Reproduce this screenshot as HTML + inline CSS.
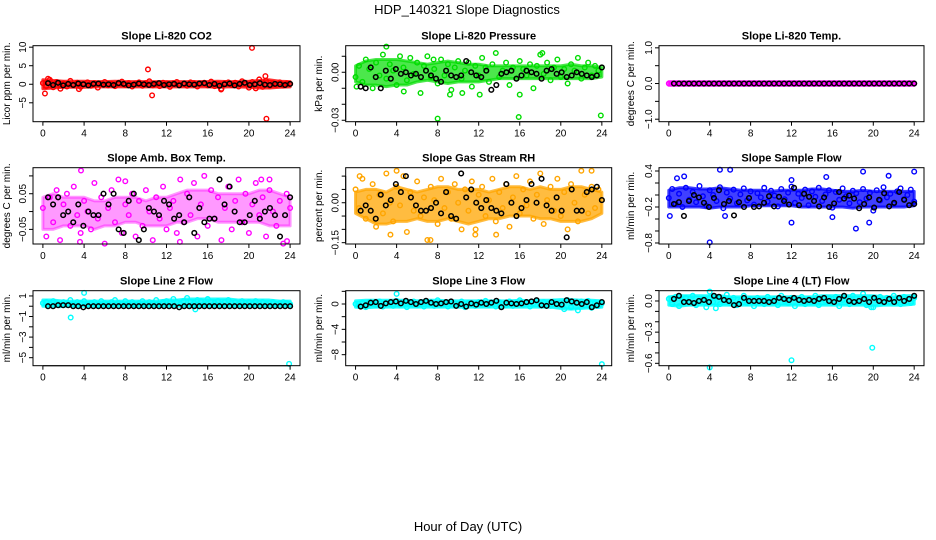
<!DOCTYPE html>
<html><head><meta charset="utf-8"><style>
html,body{margin:0;padding:0;background:#fff}
svg{display:block;font-family:"Liberation Sans",sans-serif}
</style></head><body>
<svg id="chart" width="936" height="540" viewBox="0 0 936 540">
<text x="467" y="14" font-size="13" text-anchor="middle">HDP_140321  Slope Diagnostics</text>
<text x="468" y="531" font-size="13" text-anchor="middle">Hour of Day (UTC)</text>
</svg>
<script>
const xTicks=[0,4,8,12,16,20,24];
const co2Color=[0.3,-0.5,1.2,-0.8,0.6,-0.3,0.2,-0.6,0.9,-0.2,0.4,-0.7,0.1,0.5,-0.4,0.3,-0.9,0.2,0.6,-0.3,0.1,-0.5,0.4,0.7,-0.2,0.3,-0.6,0.2,0.5,-0.4,0.3,0.8,-0.3,0.1,-0.5,0.4,0.2,-0.7,0.3,0.6,-0.2,0.1,-0.4,0.5,0.3,-0.6,0.2,0.4,-0.3,0.7,-0.5,0.1,-1.2,0.3,0.5,-0.2,0.4,-0.6,0.8,0.2,-0.9,0.6,-1.1,1.3,-0.7,0.9,-0.4,0.3,-0.2,0.5,-0.3,0.2,0.1];
const co2Black=[0.3,-0.2,0.4,-0.3,0.1,-0.2,0.2,0.0,-0.3,0.1,0.2,-0.1,0.0,-0.2,0.3,0.1,-0.3,-0.1,0.2,0.0,-0.2,0.1,0.3,-0.2,0.0,0.1,-0.3,0.2,0.0,-0.1,0.2,0.3,-0.2,0.1,-0.4,0.0,0.2,-0.3,0.1,0.4,-0.2,0.0,0.3,-0.1,-0.2,0.1,0.0,-0.2,0.1];
const co2OutX=[0.2,0.5,10.2,10.6,20.3,21.7,21.6,17.3,1.7,3.5];
const co2OutY=[-2.5,1.5,4,-3,9.8,-9.3,2.2,-1.4,-1.2,-1.3];
const co2BandLo=[-1.2,-1,-0.8,-0.8,-0.8,-0.7,-0.7,-0.7,-0.7,-0.7,-0.7,-0.7,-0.7,-0.7,-0.7,-0.7,-0.7,-0.8,-0.7,-0.7,-0.8,-1.0,-1.0,-0.8,-0.7];
const co2BandHi=[1.2,1,0.8,0.8,0.8,0.7,0.7,0.8,0.7,0.7,0.7,0.7,0.7,0.7,0.7,0.7,0.7,0.8,0.7,0.7,0.8,1.0,1.2,0.8,0.7];
const presColor=[-0.003,0.004,-0.006,0.008,0.002,-0.010,0.006,-0.002,0.011,-0.004,0.005,0.001,-0.008,0.010,0.003,-0.005,0.009,-0.001,0.006,-0.013,0.004,0.010,-0.003,0.002,-0.007,0.008,-0.002,0.005,-0.011,0.003,0.007,-0.004,0.001,0.006,-0.009,0.004,-0.002,0.009,0.003,-0.006,0.005,0.012,-0.003,0.001,0.006,-0.008,0.003,-0.004,0.007,0.002,-0.002,0.005,-0.010,0.004,0.011,-0.001,0.006,-0.005,0.003,0.008,-0.003,0.002,-0.007,0.005,0.001,0.009,-0.004,0.003,0.006,-0.002,0.004,0.001,0.003];
const presBlack=[-0.009,-0.010,0.003,-0.003,-0.010,0.001,-0.004,0.002,-0.001,0.000,-0.002,-0.001,-0.003,0.001,-0.002,-0.004,-0.006,0.001,-0.002,-0.003,-0.002,0.007,0.000,-0.002,-0.003,0.001,-0.011,-0.008,-0.001,0.000,0.001,-0.004,-0.002,0.001,0.000,-0.001,-0.004,0.001,0.002,-0.001,0.000,-0.003,-0.002,0.000,-0.001,-0.002,-0.003,-0.002,0.003];
const presOutX=[8,15.9,23.9,16,9.2,4.7,18.2,3,10.4,12.1,0.1,7.6];
const presOutY=[-0.029,-0.028,-0.027,-0.014,-0.014,-0.012,0.012,0.016,-0.013,-0.014,-0.009,0.008];
const presBandLo=[-0.006,-0.008,-0.008,-0.009,-0.008,-0.008,-0.006,-0.005,-0.006,-0.007,-0.006,-0.006,-0.006,-0.005,-0.004,-0.004,-0.004,-0.004,-0.004,-0.004,-0.004,-0.004,-0.004,-0.004,-0.003];
const presBandHi=[0.004,0.007,0.008,0.008,0.008,0.007,0.006,0.005,0.006,0.007,0.006,0.005,0.005,0.004,0.004,0.004,0.004,0.004,0.004,0.004,0.004,0.005,0.004,0.004,0.003];
const tempColor=[0,0,0,0,0,0,0,0,0,0,0,0,0,0,0,0,0,0,0,0,0,0,0,0,0,0,0,0,0,0,0,0,0,0,0,0,0,0,0,0,0,0,0,0,0,0,0,0,0];
const tempBlack=[0,0,0,0,0,0,0,0,0,0,0,0,0,0,0,0,0,0,0,0,0,0,0,0,0,0,0,0,0,0,0,0,0,0,0,0,0,0,0,0,0,0,0,0,0,0,0,0,0];
const tempBandLo=[-0.05,-0.05,-0.05,-0.05,-0.05,-0.05,-0.05,-0.05,-0.05,-0.05,-0.05,-0.05,-0.05,-0.05,-0.05,-0.05,-0.05,-0.05,-0.05,-0.05,-0.05,-0.05,-0.05,-0.05,-0.05];
const tempBandHi=[0.05,0.05,0.05,0.05,0.05,0.05,0.05,0.05,0.05,0.05,0.05,0.05,0.05,0.05,0.05,0.05,0.05,0.05,0.05,0.05,0.05,0.05,0.05,0.05,0.05];
const ambColor=[0.01,-0.07,0.04,-0.03,0.06,-0.08,0.02,0.05,-0.04,0.07,-0.01,-0.06,0.03,0.00,-0.05,0.08,-0.02,0.04,-0.09,0.01,0.06,-0.03,0.09,-0.06,0.02,-0.01,0.05,-0.07,0.03,-0.04,0.06,0.00,-0.08,0.04,-0.02,0.07,-0.05,0.01,0.03,-0.06,0.09,-0.03,0.05,-0.01,0.08,-0.07,0.02,0.10,-0.04,0.06,-0.02,0.04,-0.08,0.01,0.07,-0.05,0.03,0.09,-0.03,0.05,-0.06,0.02,0.08,-0.01,0.04,-0.07,0.06,0.00,-0.04,0.03,-0.09,0.05,0.01];
const ambBlack=[0.04,0.02,0.04,-0.01,0.00,-0.03,0.02,-0.04,0.00,-0.01,-0.01,0.05,0.02,0.05,-0.05,-0.06,0.03,0.05,-0.08,-0.05,0.01,0.00,-0.01,0.03,0.02,-0.02,-0.01,-0.03,0.04,-0.06,0.01,-0.03,-0.02,-0.02,0.09,0.02,0.07,0.00,-0.03,-0.03,-0.01,0.03,-0.02,0.00,0.01,-0.01,-0.07,-0.01,0.04];
const ambOutX=[3.7,3.6,8,13.3,23.7,22,21.2];
const ambOutY=[0.115,-0.085,0.085,-0.085,-0.083,0.09,0.09];
const ambBandLo=[-0.05,-0.05,-0.04,-0.04,-0.04,-0.05,-0.04,-0.04,-0.03,-0.03,-0.04,-0.04,-0.04,-0.03,-0.03,-0.02,-0.02,-0.03,-0.03,-0.03,-0.03,-0.03,-0.04,-0.04,-0.04];
const ambBandHi=[0.04,0.05,0.04,0.04,0.04,0.03,0.03,0.04,0.04,0.04,0.03,0.04,0.04,0.05,0.06,0.06,0.06,0.05,0.05,0.05,0.05,0.06,0.06,0.05,0.04];
const rhColor=[0.05,-0.02,0.09,-0.06,0.02,0.07,-0.09,0.03,-0.04,0.11,0.00,-0.07,0.06,-0.01,0.10,-0.11,0.04,-0.03,0.08,-0.05,0.02,-0.14,0.06,0.01,-0.08,0.09,-0.02,0.04,-0.06,0.07,0.00,-0.10,0.05,-0.03,0.08,-0.12,0.03,0.06,-0.05,0.01,0.09,-0.07,0.04,-0.02,0.07,-0.09,0.02,0.10,-0.04,0.05,-0.01,0.08,-0.06,0.03,0.11,-0.08,0.01,0.06,-0.03,0.09,-0.05,0.04,-0.10,0.07,0.00,-0.07,0.12,0.03,-0.04,0.06,-0.02,0.05,0.01];
const rhBlack=[-0.03,-0.01,-0.03,-0.06,0.03,-0.01,0.01,0.07,0.04,0.10,0.02,-0.01,-0.03,-0.03,-0.02,0.00,-0.04,0.04,-0.05,-0.06,0.11,0.02,0.05,0.00,-0.02,0.01,-0.02,-0.03,-0.04,0.07,0.00,-0.05,-0.02,0.01,0.07,0.00,0.09,-0.01,-0.03,0.02,-0.03,-0.13,0.05,-0.03,-0.03,0.04,0.05,0.06,0.01];
const rhOutX=[7.3,13.7,3.4,4,23,0.4,11.7];
const rhOutY=[-0.14,-0.12,-0.12,0.12,0.12,0.10,-0.10];
const rhBandLo=[-0.04,-0.06,-0.08,-0.08,-0.07,-0.07,-0.06,-0.07,-0.07,-0.06,-0.07,-0.08,-0.07,-0.06,-0.06,-0.05,-0.05,-0.05,-0.06,-0.06,-0.07,-0.07,-0.07,-0.06,-0.04];
const rhBandHi=[0.04,0.05,0.05,0.04,0.06,0.05,0.04,0.05,0.06,0.06,0.05,0.05,0.05,0.04,0.05,0.06,0.06,0.05,0.06,0.05,0.05,0.06,0.06,0.05,0.04];
const flowColor=[-0.05,0.10,-0.15,0.02,-0.20,0.12,-0.08,0.05,-0.12,0.15,-0.02,-0.18,0.08,0.00,-0.10,0.13,-0.22,0.04,-0.06,0.09,-0.14,0.01,0.11,-0.09,0.06,-0.16,0.03,-0.04,0.12,-0.11,0.07,-0.01,-0.19,0.10,-0.07,0.04,0.14,-0.13,0.02,-0.05,0.09,-0.17,0.06,-0.03,0.12,-0.10,0.01,0.08,-0.21,0.05,-0.08,0.11,-0.02,-0.14,0.07,0.03,-0.12,0.10,-0.06,0.04,-0.26,0.08,-0.09,0.13,-0.04,0.02,-0.15,0.06,0.11,-0.07,0.00,0.09,-0.11];
const flowBlack=[-0.15,-0.12,-0.35,-0.1,0.0,-0.04,-0.13,-0.2,-0.05,0.08,-0.15,-0.1,-0.34,-0.12,-0.2,-0.05,-0.2,-0.19,-0.13,-0.02,-0.19,-0.03,-0.1,-0.16,0.12,-0.17,0.02,-0.03,-0.1,-0.19,-0.04,-0.2,-0.14,0.05,-0.06,-0.01,-0.06,-0.22,-0.15,-0.04,-0.21,-0.08,0.03,-0.19,-0.13,0.05,-0.08,-0.17,-0.15];
const flowOutX=[0.1,0.8,1.5,4,5,6,5.5,12,12,15.4,16,18.3,19,19.6,21.5,24];
const flowOutY=[-0.35,0.28,0.31,-0.79,0.42,0.42,-0.35,-0.46,0.25,0.3,-0.37,-0.56,0.39,-0.46,0.32,0.39];
const flowBandLo=[-0.2,-0.2,-0.2,-0.2,-0.22,-0.2,-0.2,-0.2,-0.18,-0.18,-0.18,-0.18,-0.18,-0.2,-0.2,-0.2,-0.2,-0.2,-0.22,-0.2,-0.2,-0.2,-0.2,-0.2,-0.18];
const flowBandHi=[0.08,0.12,0.12,0.1,0.1,0.12,0.1,0.08,0.08,0.08,0.06,0.08,0.08,0.08,0.1,0.1,0.08,0.06,0.06,0.08,0.06,0.06,0.06,0.06,0.06];
const l2Color=[0.3,0.4,0.2,0.5,0.3,0.1,0.4,0.3,0.6,0.2,0.4,0.3,0.5,0.2,0.3,0.4,0.1,0.5,0.3,0.2,0.4,0.6,0.3,0.2,0.5,0.3,0.4,0.1,0.3,0.5,0.2,0.4,0.3,0.6,0.2,0.4,0.5,0.3,0.7,0.4,0.2,0.5,0.8,0.4,0.3,0.6,0.5,0.2,0.7,0.4,0.3,0.5,0.2,0.4,0.6,0.3,0.4,0.2,0.5,0.3,0.4,0.2,0.5,0.3,0.4,0.2,0.3,0.4,0.2,0.3,0.4,0.3,0.2];
const l2Black=[0.0,0.0,0.1,0.1,0.1,0.0,0.0,-0.1,0.0,0.0,0.0,0.0,0.0,0.0,0.0,0.0,0.0,0.0,0.0,0.0,0.0,0.0,0.0,0.0,0.0,0.0,-0.1,0.0,0.0,0.0,0.0,0.0,0.0,0.0,0.0,0.0,0.0,0.0,0.0,0.0,0.0,0.0,0.0,0.0,0.0,0.0,0.0,0.0,0.0];
const l2OutX=[2.7,4,23.9,14.8];
const l2OutY=[-1.1,1.3,-5.6,-0.3];
const l2BandLo=[0.0,0.0,0.0,0.0,0.0,0.0,0.0,0.0,0.0,0.0,0.0,0.0,0.0,0.0,0.0,0.0,0.0,0.0,0.0,0.0,0.0,0.0,0.0,0.0,0.0];
const l2BandHi=[0.6,0.6,0.5,0.5,0.5,0.5,0.5,0.5,0.5,0.5,0.5,0.5,0.6,0.6,0.7,0.7,0.7,0.7,0.7,0.6,0.6,0.6,0.6,0.5,0.5];
const l3Color=[0.0,-0.3,0.2,-0.5,0.3,0.1,-0.2,0.4,-0.4,0.2,0.0,-0.3,0.5,-0.1,0.3,-0.5,0.1,0.4,-0.2,0.2,-0.4,0.3,0.0,-0.3,0.6,-0.1,0.2,-0.4,0.3,0.1,-0.2,0.4,-0.5,0.2,0.0,-0.3,0.3,-0.1,0.5,-0.2,0.1,-0.4,0.3,0.0,-0.2,0.4,-0.3,0.2,0.6,-0.1,0.3,-0.4,0.1,0.5,-0.2,0.3,0.0,-0.3,0.4,-0.1,0.2,-0.8,0.6,-0.5,0.3,-1.0,0.4,-0.2,0.5,-0.6,0.2,-0.3,0.1];
const l3Black=[-0.4,-0.2,0.2,0.3,-0.3,0.1,0.3,0.4,0.1,0.5,0.3,0.0,0.3,0.5,0.2,0.0,0.1,0.3,0.4,-0.3,0.0,-0.4,0.1,-0.1,0.2,0.0,0.2,0.5,-0.5,0.2,0.1,0.0,0.1,0.3,0.4,0.6,-0.2,-0.3,0.3,0.0,-0.1,0.6,0.4,0.2,0.0,0.3,-0.5,-0.2,0.3];
const l3OutX=[4,24];
const l3OutY=[1.6,-9.5];
const l3BandLo=[-0.5,-0.6,-0.5,-0.5,-0.5,-0.5,-0.5,-0.5,-0.5,-0.5,-0.5,-0.5,-0.5,-0.5,-0.5,-0.5,-0.5,-0.5,-0.5,-0.5,-0.7,-0.8,-0.7,-0.6,-0.5];
const l3BandHi=[0.5,0.6,0.6,0.6,0.6,0.6,0.5,0.6,0.6,0.5,0.5,0.5,0.5,0.5,0.5,0.5,0.6,0.5,0.6,0.6,0.7,0.7,0.6,0.6,0.5];
const l4Color=[0.02,-0.03,0.04,-0.05,0.01,0.03,-0.02,0.05,-0.04,0.00,0.02,-0.06,0.03,-0.01,0.04,-0.03,0.01,0.06,-0.02,0.03,-0.04,0.00,0.05,-0.02,0.02,-0.05,0.03,0.01,-0.03,0.04,-0.01,0.02,-0.04,0.05,0.00,-0.02,0.03,-0.05,0.01,0.04,-0.03,0.02,-0.01,0.05,-0.04,0.02,0.00,0.03,-0.02,0.04,-0.05,0.01,0.03,-0.03,0.05,-0.01,0.02,0.07,-0.04,0.03,-0.06,0.01,0.04,-0.02,0.03,-0.01,0.05,0.00,-0.03,0.04,0.02,-0.02,0.03];
const l4Black=[0.02,0.05,-0.01,-0.01,-0.02,0.0,0.01,-0.01,0.05,0.04,0.01,0.0,-0.04,-0.03,0.03,0.0,0.0,0.0,0.0,-0.01,0.0,0.03,0.02,0.01,0.03,0.01,0.0,0.01,0.0,0.02,0.03,0.0,-0.01,0.02,0.05,0.0,-0.01,0.0,0.02,-0.01,0.03,0.0,-0.01,0.02,-0.01,0.03,0.0,0.02,0.05];
const l4OutX=[4,12,19.9,4,4.6,19.8];
const l4OutY=[-0.64,-0.57,-0.45,0.09,-0.07,-0.06];
const l4BandLo=[-0.04,-0.05,-0.04,-0.04,-0.04,-0.04,-0.04,-0.04,-0.04,-0.04,-0.04,-0.04,-0.04,-0.04,-0.04,-0.04,-0.04,-0.04,-0.04,-0.04,-0.05,-0.04,-0.04,-0.04,-0.03];
const l4BandHi=[0.04,0.05,0.05,0.05,0.05,0.05,0.04,0.04,0.04,0.04,0.04,0.04,0.04,0.04,0.04,0.05,0.05,0.05,0.05,0.05,0.05,0.04,0.04,0.05,0.05];

const NS='http://www.w3.org/2000/svg';
const svg=document.getElementById('chart');
function mk(tag,attrs,parent){const e=document.createElementNS(NS,tag);for(const k in attrs)e.setAttribute(k,attrs[k]);(parent||svg).appendChild(e);return e;}
const colsL=[33,345.7,659],colsR=[300,611.7,924];
const rowsT=[45.7,167.7,290.7],rowsB=[121.7,244,365.7];
const yLabX=[10,322,634];
const panels=[
 {t:'Slope Li-820 CO2',yl:'Licor ppm per min.',ylim:[-10.1,10.4],ticks:[-5,0,5,10],labs:['−5','0','5','10'],col:'#ff0000',op:0.8,c:co2Color,b:co2Black,ox:co2OutX,oy:co2OutY,lo:co2BandLo,hi:co2BandHi},
 {t:'Slope Li-820 Pressure',yl:'kPa per min.',ylim:[-0.0309,0.0166],ticks:[-0.03,-0.02,-0.01,0,0.01],labs:['−0.03','','','0.00',''],col:'#00dd00',op:0.7,c:presColor,b:presBlack,ox:presOutX,oy:presOutY,lo:presBandLo,hi:presBandHi},
 {t:'Slope Li-820 Temp.',yl:'degrees C per min.',ylim:[-1.07,1.06],ticks:[-1,-0.5,0,0.5,1],labs:['−1.0','','0.0','','1.0'],col:'#ff00ff',op:0.9,c:tempColor,b:tempBlack,ox:[],oy:[],lo:tempBandLo,hi:tempBandHi},
 {t:'Slope Amb. Box Temp.',yl:'degrees C per min.',ylim:[-0.091,0.123],ticks:[-0.05,0,0.05,0.1],labs:['−0.05','','0.05',''],col:'#ff00ff',op:0.4,c:ambColor,b:ambBlack,ox:ambOutX,oy:ambOutY,lo:ambBandLo,hi:ambBandHi},
 {t:'Slope Gas Stream RH',yl:'percent per min.',ylim:[-0.155,0.1316],ticks:[-0.15,-0.1,-0.05,0,0.05,0.1],labs:['−0.15','','','0.00','',''],col:'#ffa500',op:0.75,c:rhColor,b:rhBlack,ox:rhOutX,oy:rhOutY,lo:rhBandLo,hi:rhBandHi},
 {t:'Slope Sample Flow',yl:'ml/min per min.',ylim:[-0.817,0.455],ticks:[-0.8,-0.6,-0.4,-0.2,0,0.2,0.4],labs:['−0.8','','','−0.2','','','0.4'],col:'#0000ff',op:0.75,c:flowColor,b:flowBlack,ox:flowOutX,oy:flowOutY,lo:flowBandLo,hi:flowBandHi},
 {t:'Slope Line 2 Flow',yl:'ml/min per min.',ylim:[-5.78,1.51],ticks:[-5,-4,-3,-2,-1,0,1],labs:['−5','','−3','','−1','','1'],col:'#00ffff',op:0.85,c:l2Color,b:l2Black,ox:l2OutX,oy:l2OutY,lo:l2BandLo,hi:l2BandHi},
 {t:'Slope Line 3 Flow',yl:'ml/min per min.',ylim:[-9.74,2.1],ticks:[-8,-6,-4,-2,0,2],labs:['−8','','−4','','0',''],col:'#00ffff',op:0.85,c:l3Color,b:l3Black,ox:l3OutX,oy:l3OutY,lo:l3BandLo,hi:l3BandHi},
 {t:'Slope Line 4 (LT) Flow',yl:'ml/min per min.',ylim:[-0.623,0.099],ticks:[-0.6,-0.5,-0.4,-0.3,-0.2,-0.1,0,0.1],labs:['−0.6','','','−0.3','','','0.0',''],col:'#00ffff',op:0.85,c:l4Color,b:l4Black,ox:l4OutX,oy:l4OutY,lo:l4BandLo,hi:l4BandHi}
];
panels.forEach((p,i)=>{
 const ci=i%3,ri=Math.floor(i/3);
 const L=colsL[ci],R=colsR[ci],T=rowsT[ri],B=rowsB[ri];
 const xs=v=>L+(v+0.96)/25.92*(R-L);
 const ys=v=>B-(v-p.ylim[0])/(p.ylim[1]-p.ylim[0])*(B-T);
 const g=mk('g',{});
 
 
 const tt=mk('text',{x:(L+R)/2,y:T-6,'font-size':11,'font-weight':'bold','text-anchor':'middle'},g);tt.textContent=p.t;
 
 
 const yl=mk('text',{x:0,y:0,'font-size':10,'text-anchor':'middle',transform:`translate(${yLabX[ci]},${(T+B)/2}) rotate(-90)`},g);yl.textContent=p.yl;
 
 
 // dense band
 const nb0=p.lo.length;
 let pts=p.hi.map((v,k)=>xs(k*24/(nb0-1))+','+ys(v));
 pts=pts.concat(p.lo.map((v,k)=>xs(k*24/(nb0-1))+','+ys(v)).reverse());
 const band=mk('polygon',{points:pts.join(' '),fill:p.col,'fill-opacity':p.op,stroke:p.col,'stroke-width':3,'stroke-opacity':p.op,'stroke-linejoin':'round'},g);
 
 
 const pg=mk('g',{},g);
 
 
 const nc=p.c.length;
 p.c.forEach((v,k)=>{const c=mk('circle',{cx:xs(k*24/(nc-1)),cy:ys(v),r:2.3,fill:'none',stroke:p.col,'stroke-width':1.4},pg);
  
  });
 p.ox.forEach((x,k)=>{const c=mk('circle',{cx:xs(x),cy:ys(p.oy[k]),r:2.3,fill:'none',stroke:p.col,'stroke-width':1.4},pg);
  
  });
 const nb=p.b.length;
 p.b.forEach((v,k)=>{const c=mk('circle',{cx:xs(0.5+k*23.5/(nb-1)),cy:ys(v),r:2.3,fill:'none',stroke:'#000','stroke-width':1.5},pg);
  
  });
 const box=mk('rect',{x:L,y:T,width:R-L,height:B-T,fill:'none',stroke:'#000','stroke-width':1},g);
 
 
 mk('line',{x1:xs(0),x2:xs(24),y1:B,y2:B,stroke:'#000'},g);
 xTicks.forEach(t=>{mk('line',{x1:xs(t),x2:xs(t),y1:B,y2:B+4,stroke:'#000'},g);
  const tx=mk('text',{x:xs(t),y:B+15,'font-size':10,'text-anchor':'middle'},g);tx.textContent=t;
  
  });
 mk('line',{x1:L,x2:L,y1:ys(p.ticks[0]),y2:ys(p.ticks[p.ticks.length-1]),stroke:'#000'},g);
 p.ticks.forEach((t,k)=>{mk('line',{x1:L-4,x2:L,y1:ys(t),y2:ys(t),stroke:'#000'},g);
  if(p.labs[k]){const ty=mk('text',{x:0,y:0,'font-size':10,'text-anchor':'middle',transform:`translate(${L-7},${ys(t)}) rotate(-90)`},g);ty.textContent=p.labs[k];
  
  }});
});
</script>
</body></html>
